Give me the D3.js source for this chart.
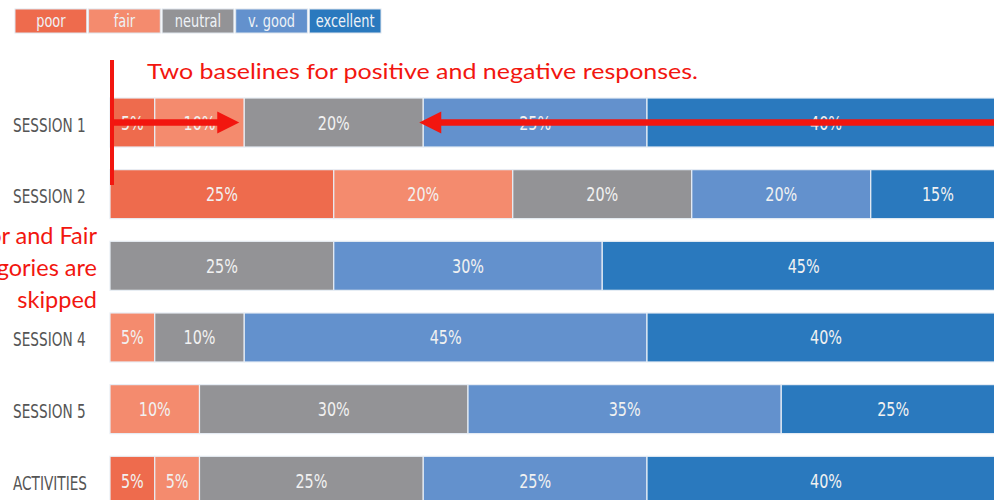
<!DOCTYPE html>
<html>
<head>
<meta charset="utf-8">
<script src="https://cdn.jsdelivr.net/npm/d3@7"></script>
<style>
  body { margin: 0; background: #fff; overflow: hidden; }
  .cond { font-family: "DejaVu Sans Condensed", "DejaVu Sans", sans-serif; font-stretch: condensed; }
  .note { font-family: Lato, "Open Sans", sans-serif; }
</style>
</head>
<body>
<script>
// data
var categories = ["SESSION 1", "SESSION 2", "SESSION 3", "SESSION 4", "SESSION 5", "ACTIVITIES"];
var responses = ["poor", "fair", "neutral", "v. good", "excellent"];
var poor      = [5, 25, 0, 0, 0, 5];
var fair      = [10, 20, 0, 5, 10, 5];
var neutral   = [20, 20, 25, 10, 30, 25];
var vgood     = [25, 20, 30, 45, 35, 25];
var excellent = [40, 15, 45, 40, 25, 40];

var width = 994, height = 500;
var squeeze = "scale(0.8,1)";   // fake the narrow type of the original

var rows = categories.map(function(c, i) {
    return { cat: c, "poor": poor[i], "fair": fair[i], "neutral": neutral[i], "v. good": vgood[i], "excellent": excellent[i] };
});

var color = d3.scaleOrdinal()
              .domain(responses)
              .range(["#ee6b4d", "#f48b6e", "#939396", "#6391cd", "#2a79be"]);

// bars run off the right edge like in the cropped original
var x = d3.scaleLinear().domain([0, 100]).range([110, 1005]);
var y = d3.scaleBand().domain(categories).range([98, 505.3]).paddingInner(0.316).paddingOuter(0).align(0);

var svg = d3.select("body").append("svg")
            .attr("width", width)
            .attr("height", height);

// legend
var lx = d3.scaleBand().domain(responses).range([15, 381]).paddingInner(0.025);
var leg = svg.append("g").selectAll("g").data(responses).enter().append("g");
leg.append("rect")
   .attr("x", function(d) { return lx(d); })
   .attr("y", 9)
   .attr("width", lx.bandwidth())
   .attr("height", 24)
   .attr("fill", function(d) { return color(d); })
   .attr("stroke", "#dfe6ee")
   .attr("stroke-width", 1);
leg.append("text")
   .attr("class", "cond")
   .attr("transform", function(d) { return "translate(" + (lx(d) + lx.bandwidth() / 2) + ",21) " + squeeze; })
   .attr("dy", "0.35em")
   .attr("text-anchor", "middle")
   .attr("font-size", 18)
   .attr("fill", "#eef2f6")
   .text(function(d) { return d; });

// stacked bars
var series = d3.stack().keys(responses)(rows);

var layer = svg.append("g").selectAll("g")
               .data(series)
               .enter().append("g")
               .attr("fill", function(d) { return color(d.key); });

layer.selectAll("rect")
     .data(function(d) { return d.filter(function(p) { return p[1] > p[0]; }); })
     .enter().append("rect")
     .attr("x", function(d) { return x(d[0]); })
     .attr("y", function(d) { return y(d.data.cat); })
     .attr("width", function(d) { return x(d[1]) - x(d[0]); })
     .attr("height", y.bandwidth())
     .attr("stroke", "#e8eef5")
     .attr("stroke-width", 1.2);

layer.selectAll("text")
     .data(function(d) { return d.filter(function(p) { return p[1] > p[0]; }); })
     .enter().append("text")
     .attr("class", "cond")
     .attr("transform", function(d) {
         return "translate(" + ((x(d[0]) + x(d[1])) / 2) + "," + (y(d.data.cat) + y.bandwidth() / 2) + ") " + squeeze;
     })
     .attr("dy", "0.35em")
     .attr("text-anchor", "middle")
     .attr("font-size", 20)
     .attr("fill", "#f1f1f1")
     .text(function(d) { return (d[1] - d[0]) + "%"; });

// category labels (SESSION 3 sits under the side note in the original)
svg.append("g").selectAll("text")
   .data(categories.filter(function(c) { return c !== "SESSION 3"; }))
   .enter().append("text")
   .attr("class", "cond")
   .attr("transform", function(d) { return "translate(13," + (y(d) + y.bandwidth() / 2 + 2) + ") scale(0.76,1)"; })
   .attr("dy", "0.35em")
   .attr("font-size", 20)
   .attr("fill", "#555")
   .text(function(d) { return d; });

// annotations
var red = "#f2160f";
var note = svg.append("g");

note.append("line")
    .attr("x1", 112).attr("x2", 112)
    .attr("y1", 60).attr("y2", 185)
    .attr("stroke", red).attr("stroke-width", 4);

note.append("text")
    .attr("class", "note")
    .attr("x", 147).attr("y", 79)
    .attr("font-size", 21)
    .attr("fill", red)
    .attr("textLength", 551)
    .attr("lengthAdjust", "spacingAndGlyphs")
    .text("Two baselines for positive and negative responses.");

var ay = y("SESSION 1") + y.bandwidth() / 2;
var s1 = series.map(function(s) { return s[0]; });
var tipR = x(s1[1][1]) - 5;   // end of fair
var tipL = x(s1[2][1]) - 4;   // end of neutral

function arrow(x0, x1) {
    var dir = x1 > x0 ? 1 : -1;
    var head = 22;
    note.append("line")
        .attr("x1", x0).attr("x2", x1 - dir * head + dir * 2)
        .attr("y1", ay).attr("y2", ay)
        .attr("stroke", red).attr("stroke-width", 6.5);
    note.append("path")
        .attr("d", "M" + x1 + "," + ay + "L" + (x1 - dir * head) + "," + (ay - 11) + "L" + (x1 - dir * head) + "," + (ay + 11) + "Z")
        .attr("fill", red);
}
arrow(113, tipR);
arrow(1000, tipL);

// side note, cut by the left edge as in the original
var lines = ["Poor and Fair", "categories are", "skipped"];
note.selectAll(".side")
    .data(lines)
    .enter().append("text")
    .attr("class", "note side")
    .attr("x", 97)
    .attr("y", function(d, i) { return 244 + i * 32; })
    .attr("text-anchor", "end")
    .attr("font-size", 23.5)
    .attr("fill", red)
    .text(function(d) { return d; });
</script>
</body>
</html>
